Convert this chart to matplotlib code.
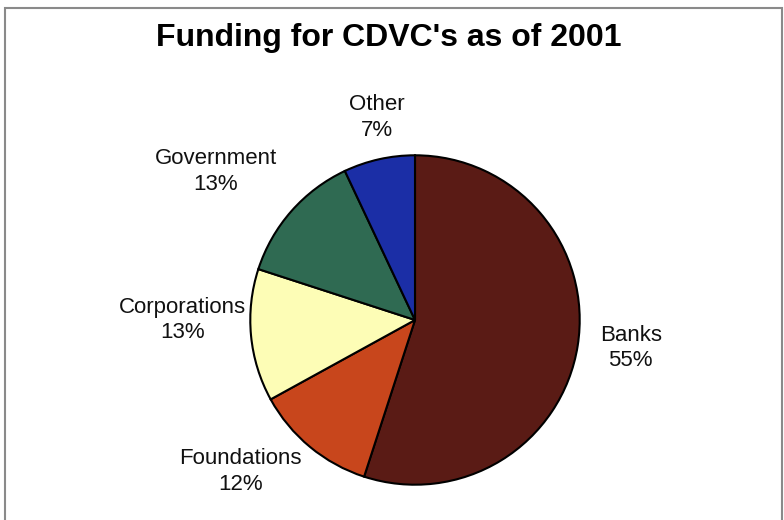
import matplotlib
matplotlib.use('Agg')
import matplotlib.pyplot as plt
from matplotlib.patches import Rectangle

plt.rcParams['font.family'] = ['Liberation Sans', 'DejaVu Sans']

# Data
labels = ['Banks', 'Foundations', 'Corporations', 'Government', 'Other']
shares = [55, 12, 13, 13, 7]
colors = ['#5a1b15', '#c8461c', '#fdfdb6', '#2f6a52', '#1b2ea6']

# label anchor points, in pie radius units
label_xy = [(1.31, -0.17), (-1.06, -0.92), (-1.41, 0.0),
            (-1.21, 0.90), (-0.23, 1.23)]

W, H = 784, 520
fig = plt.figure(figsize=(W / 100, H / 100), dpi=100)
fig.patch.set_facecolor('white')

# outer frame
fig.add_artist(Rectangle((5 / W, -0.05), (777 / W), (512 / H) + 0.05,
                         transform=fig.transFigure, fill=False,
                         edgecolor='#8a8a8a', lw=1.5))

fig.text(389 / W, 1 - 38 / H, "Funding for CDVC's as of 2001",
         ha='center', va='center', fontsize=23, fontweight='bold')

cx, cy, r = 415, 320, 168
ax = fig.add_axes([(cx - r) / W, (H - cy - r) / H, 2 * r / W, 2 * r / H])
ax.pie(shares, colors=colors, startangle=90, counterclock=False,
       radius=1, wedgeprops=dict(edgecolor='black', linewidth=1.5))
ax.set_xlim(-1.02, 1.02)
ax.set_ylim(-1.02, 1.02)
ax.set_aspect('equal')
ax.axis('off')

for name, val, (x, y) in zip(labels, shares, label_xy):
    ax.text(x, y, f'{name}\n{val}%', ha='center', va='center',
            fontsize=16, color='#111111', linespacing=1.3, clip_on=False)

fig.savefig('out.png', dpi=100)
